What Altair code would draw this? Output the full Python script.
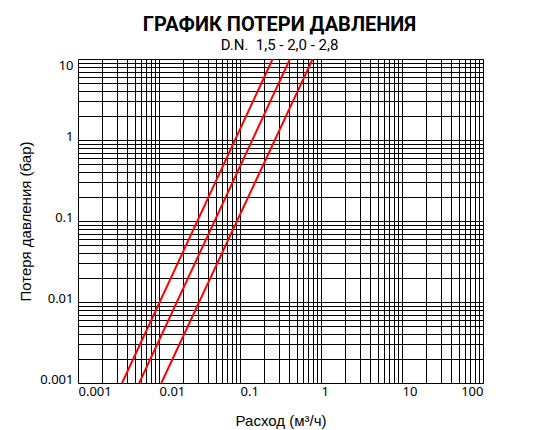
import altair as alt
import pandas as pd

# --- data ---
series = ["D.N. 1,5", "D.N. 2,0", "D.N. 2,8"]
flow_start = [0.0035, 0.0057, 0.0107]     # m3/h at 0.001 bar
flow_end = [0.253, 0.414, 0.789]          # m3/h at 10 bar
loss_start = [0.001, 0.001, 0.001]
loss_end = [10, 10, 10]

x_decades = [0.001, 0.01, 0.1, 1, 10, 100]
y_decades = [0.001, 0.01, 0.1, 1, 10]
mult = [1, 2, 3, 4, 5, 6, 7, 8, 9]

x_grid = [m * d for d in x_decades[:-1] for m in mult] + [x_decades[-1]]
y_grid = [m * d for d in y_decades[:-1] for m in mult] + [y_decades[-1]]

rows = []
for s, f0, f1, p0, p1 in zip(series, flow_start, flow_end, loss_start, loss_end):
    rows.append({"series": s, "flow": f0, "loss": p0})
    rows.append({"series": s, "flow": f1, "loss": p1})
df = pd.DataFrame(rows)

xdec_js = "[" + ",".join(str(v) for v in x_decades) + "]"
ydec_js = "[" + ",".join(str(v) for v in y_decades) + "]"

x_axis = alt.Axis(
    values=x_grid,
    format="~g",
    labelExpr=f"indexof({xdec_js}, datum.value) >= 0 ? datum.label : ''",
    labelAlign={"condition": {"test": "datum.value >= 50", "value": "right"}, "value": "left"},
    labelFlush=False,
    labelOverlap=False,
    labelFont="Noto Sans",
    labelFontSize=13,
    labelColor="black",
    labelPadding=2,
    ticks=False,
    domain=False,
    grid=True,
    gridColor="black",
    gridOpacity=1,
    gridWidth=1,
    title="Расход (м³/ч)",
    titleFont="Liberation Sans",
    titleFontSize=15,
    titleFontWeight="normal",
    titleColor="black",
    titlePadding=15,
)

y_axis = alt.Axis(
    values=y_grid,
    format="~g",
    labelExpr=f"indexof({ydec_js}, datum.value) >= 0 ? datum.label : ''",
    labelBaseline={"condition": {"test": "datum.value >= 5", "value": "top"}, "value": "alphabetic"},
    labelFlush=False,
    labelOverlap=False,
    labelFont="Noto Sans",
    labelFontSize=13,
    labelColor="black",
    labelPadding=5,
    ticks=False,
    domain=False,
    grid=True,
    gridColor="black",
    gridOpacity=1,
    gridWidth=1,
    title="Потеря давления (бар)",
    titleFont="Liberation Sans",
    titleFontSize=15,
    titleFontWeight="normal",
    titleColor="black",
    titlePadding=6,
)

chart = (
    alt.Chart(df)
    .mark_line(color="#ff0000", strokeWidth=2, clip=True)
    .encode(
        x=alt.X("flow:Q", scale=alt.Scale(type="log", domain=[0.001, 100], nice=False), axis=x_axis),
        y=alt.Y("loss:Q", scale=alt.Scale(type="log", domain=[0.001, 10], nice=False), axis=y_axis),
        detail="series:N",
    )
    .properties(
        width=405,
        height=324,
        autosize="none",
        padding={"left": 70, "top": 51, "right": 40, "bottom": 47},
        title=alt.TitleParams(
            text="ГРАФИК ПОТЕРИ ДАВЛЕНИЯ",
            subtitle="D.N.\u00a0 1,5 - 2,0 - 2,8",
            font="Roboto",
            fontWeight="bold",
            fontSize=20,
            color="black",
            subtitleFont="Roboto",
            subtitleFontSize=15,
            subtitleColor="black",
            subtitlePadding=3,
            anchor="middle",
            dx=-1,
            offset=6,
        ),
    )
    .configure_view(stroke="black", strokeWidth=1.5)
    .configure(background="white")
)

chart.save("out.html", embed_options={"renderer": "svg", "actions": False})
